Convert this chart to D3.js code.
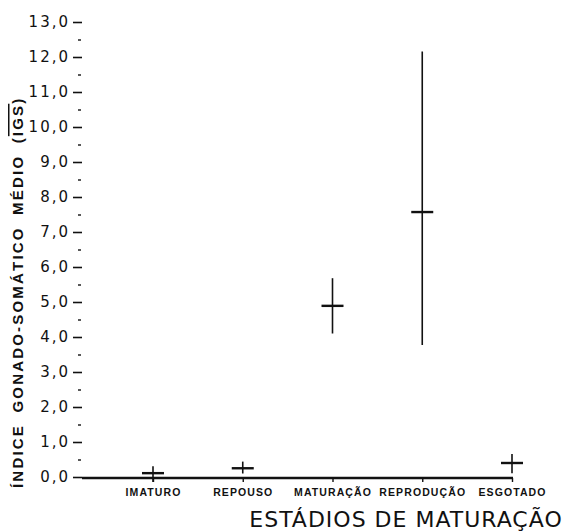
<!DOCTYPE html>
<html>
<head>
<meta charset="utf-8">
<script src="https://cdn.jsdelivr.net/npm/d3@7"></script>
<style>
  body { margin: 0; background: #fff; }
  svg { display: block; }
</style>
</head>
<body>
<svg width="565" height="531"></svg>
<script>
  // estadios de maturacao
  const stages = ["IMATURO", "REPOUSO", "MATURAÇÃO", "REPRODUÇÃO", "ESGOTADO"];
  // IGS medio e amplitude (min / max)
  const igsMean = [0.11, 0.25, 4.89, 7.57, 0.4];
  const igsMin = [-0.14, 0.1, 4.1, 3.77, 0.11];
  const igsMax = [0.31, 0.44, 5.68, 12.16, 0.66];
  const yTicks = [0, 1, 2, 3, 4, 5, 6, 7, 8, 9, 10, 11, 12, 13];
  const yMinorTicks = [0.5, 1.5, 2.5, 3.5, 4.5, 5.5, 6.5, 7.5, 8.5, 9.5, 10.5, 11.5, 12.5];

  const data = stages.map((stage, i) => {
    return { stage: stage, mean: igsMean[i], min: igsMin[i], max: igsMax[i] };
  });

  const margin = { top: 22, left: 82, bottom: 477 };

  const svg = d3.select("svg");

  // scales
  const xScale = d3
    .scalePoint()
    .domain(stages)
    .range([153, 512]);

  const yScale = d3
    .scaleLinear()
    .domain([0, 13])
    .range([margin.bottom, margin.top]);

  // y axis - only tick labels and dashes, no domain line
  const yAxis = d3
    .axisLeft(yScale)
    .tickValues(yTicks)
    .tickSize(9)
    .tickPadding(3)
    .tickFormat(d => d3.format(".1f")(d).replace(".", ","));

  const gy = svg
    .append("g")
    .attr("transform", `translate(${margin.left}, 0)`)
    .call(yAxis);
  gy.select(".domain").remove();
  gy.selectAll("text")
    .attr("font-family", "DejaVu Sans, sans-serif")
    .attr("font-size", 15)
    .attr("letter-spacing", 2)
    .attr("fill", "#111");
  gy.selectAll("line").attr("stroke", "#111").attr("stroke-width", 1.6);

  const yMinor = d3
    .axisLeft(yScale)
    .tickValues(yMinorTicks)
    .tickSize(3)
    .tickFormat("");
  const gyMinor = svg
    .append("g")
    .attr("transform", `translate(${margin.left - 1}, 0)`)
    .call(yMinor);
  gyMinor.select(".domain").remove();
  gyMinor.selectAll("line").attr("stroke", "#111").attr("stroke-width", 1.4);

  // x axis (baseline)
  const xAxis = d3
    .axisBottom(xScale)
    .tickSize(4)
    .tickPadding(7);
  const gx = svg
    .append("g")
    .attr("transform", `translate(0, ${margin.bottom + 1})`)
    .call(xAxis);
  gx.select(".domain")
    .attr("d", `M${margin.left},0H${xScale("ESGOTADO") + 1}`)
    .attr("stroke", "#111")
    .attr("stroke-width", 2.6);
  gx.selectAll("line").attr("stroke", "#111").attr("stroke-width", 1.4);
  gx.selectAll("text")
    .attr("font-family", "Liberation Sans, Arial, sans-serif")
    .attr("font-weight", "bold")
    .attr("font-size", 10.5)
    .attr("letter-spacing", 1.1)
    .attr("fill", "#111");

  // error bars: vertical range
  svg
    .selectAll("line.range")
    .data(data)
    .enter()
    .append("line")
    .attr("class", "range")
    .attr("x1", d => xScale(d.stage))
    .attr("x2", d => xScale(d.stage))
    .attr("y1", d => yScale(d.min))
    .attr("y2", d => yScale(d.max))
    .attr("stroke", "#111")
    .attr("stroke-width", 1.6);

  // mean mark
  svg
    .selectAll("line.mean")
    .data(data)
    .enter()
    .append("line")
    .attr("class", "mean")
    .attr("x1", d => xScale(d.stage) - 11)
    .attr("x2", d => xScale(d.stage) + 11)
    .attr("y1", d => yScale(d.mean))
    .attr("y2", d => yScale(d.mean))
    .attr("stroke", "#111")
    .attr("stroke-width", 2.4);

  // axis titles
  svg
    .append("text")
    .attr("x", 406)
    .attr("y", 527)
    .attr("text-anchor", "middle")
    .attr("font-family", "DejaVu Sans, sans-serif")
    .attr("font-size", 22)
    .attr("letter-spacing", 1)
    .attr("fill", "#111")
    .text("ESTÁDIOS DE MATURAÇÃO");

  const yTitle = svg
    .append("text")
    .attr("transform", "translate(23, 488) rotate(-90)")
    .attr("text-anchor", "start")
    .attr("font-family", "Liberation Sans, Arial, sans-serif")
    .attr("font-weight", "bold")
    .attr("font-size", 15)
    .attr("letter-spacing", 2.2)
    .attr("word-spacing", 5)
    .attr("fill", "#111");
  yTitle.append("tspan").text("ÍNDICE GONADO-SOMÁTICO MÉDIO (");
  yTitle.append("tspan").style("text-decoration", "overline").text("IGS");
  yTitle.append("tspan").text(")");
</script>
</body>
</html>
